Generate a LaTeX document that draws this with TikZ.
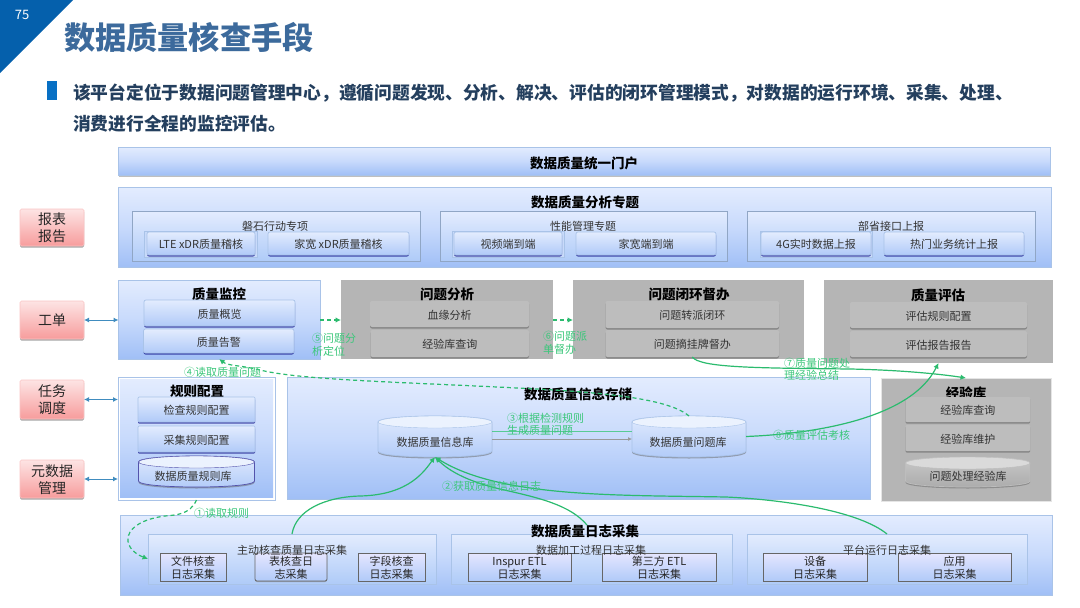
\documentclass[tikz,border=0pt]{standalone}
\usepackage{fontspec}
\setmainfont{Noto Sans CJK SC}
\usetikzlibrary{arrows.meta,shadows,calc}
\definecolor{gl}{HTML}{2BBB6E}
\definecolor{gt}{HTML}{3CC77B}
\definecolor{bb}{HTML}{A9C3E8}
\definecolor{hd}{HTML}{3C6A9C}
\definecolor{bluetop}{HTML}{E3ECFE}
\definecolor{bluemid}{HTML}{C8DAFC}
\definecolor{bluebot}{HTML}{A0BFF6}
\definecolor{bluesub}{HTML}{AFCBF8}
\definecolor{bluelow}{HTML}{B0CAF8}
\definecolor{panelgrey}{HTML}{B5B5B5}
\definecolor{boxgrey}{HTML}{BDBDBD}
\definecolor{tri}{HTML}{0560AC}
\definecolor{bul}{HTML}{0870C4}
\definecolor{redt}{HTML}{FDE4E4}
\definecolor{redm}{HTML}{F79C9C}
\tikzset{
 x=1pt,y=-1pt,
 base/.style={inner sep=0pt,outer sep=0pt,text=black!80,font=\fontsize{11}{13.5}\selectfont,align=center},
 panel/.style={base,draw=bb,line width=.8pt,top color=bluetop,bottom color=bluebot,middle color=bluemid},
 plainbox/.style={panel,general shadow={fill=black!25,shadow yshift=-1.5pt,shadow xshift=.5pt}},
 subbox/.style={base,draw=bb!85!black,line width=.8pt,top color=bluetop,bottom color=bluesub,general shadow={fill=blue!50!black,opacity=.35,shadow yshift=-1.2pt}},
 inbox/.style={base,rounded corners=2pt,draw=bb,line width=.7pt,top color=bluetop,bottom color=bluelow,general shadow={fill=blue!50!black,opacity=.65,shadow yshift=-1.5pt}},
 band/.style={base,draw=bb,line width=.5pt,fill=bluelow!70!white},
 logbox/.style={base,draw=black!60,line width=.8pt,top color=white!90!blue,bottom color=bluelow,font=\fontsize{11}{13}\selectfont,text=black!85,general shadow={fill=black!50,opacity=.6,shadow yshift=-1pt}},
 greyp/.style={base,fill=panelgrey},
 greyb/.style={base,rounded corners=2pt,fill=boxgrey,general shadow={fill=black!60,opacity=.6,shadow yshift=-1.5pt}},
 redb/.style={base,rounded corners=1.5pt,draw=redm!60,line width=.6pt,top color=redt,bottom color=redm,text=black!85,font=\fontsize{14}{17}\selectfont,general shadow={fill=black!35,shadow yshift=-1.5pt}},
 ptitle/.style={inner sep=0pt,text=black,font=\fontsize{13.5}{16}\selectfont\bfseries},
 stitle/.style={inner sep=0pt,text=black!80,font=\fontsize{11}{13}\selectfont},
 glab/.style={inner sep=0pt,text=gt,font=\fontsize{11}{12.5}\selectfont,align=left,anchor=west},
 link/.style={draw=gl,line width=1.2pt,-{Latex[length=5.5pt,width=5.5pt]}},
 dlink/.style={link,dash pattern=on 4pt off 3pt},
 both/.style={draw=blue!40!cyan!50!gray,line width=1pt,{Latex[length=5pt,width=5pt]}-{Latex[length=5pt,width=5pt]}},
}
\newcommand\dn[1]{\raisebox{-2.3pt}[\height][\depth]{\begin{tabular}{@{}c@{}}#1\end{tabular}}}
\newcommand\bx[7][base]{\node[#1,minimum width={(#4-#2)*1pt},minimum height={(#5-#3)*1pt}] (#6) at ({(#2+#4)/2},{(#3+#5)/2}) {\dn{#7}};}
\newcommand\cyl[8]{%
 \path[top color=#6,bottom color=#7,draw=#8,line width=.7pt,general shadow={fill=black!60,opacity=.5,shadow yshift=-1.5pt}]
  (#1,#2+6) -- (#1,#4-6) .. controls (#1,#4+2) and (#3,#4+2) .. (#3,#4-6) -- (#3,#2+6) .. controls (#3,#2-2) and (#1,#2-2) .. cycle;
 \path[fill=#6!70!white,draw=#8,line width=.4pt] ({(#1+#3)/2},#2+6) ellipse [x radius={(#3-#1)/2*1pt},y radius=6pt];
 \node[base,minimum width={(#3-#1)*1pt},minimum height={(#4-#2)*1pt}] (#5) at ({(#1+#3)/2},{(#2+#4)/2}) {};
}
\begin{document}
\begin{tikzpicture}
\useasboundingbox (0,0) rectangle (1080,608);
\fill[white] (0,0) rectangle (1080,608);
% header
\fill[tri] (0,0) -- (73,0) -- (0,73) -- cycle;
\node[inner sep=0pt,text=white,font=\fontsize{13}{15}\selectfont] (pg) at (22,15) {75};
\node[inner sep=0pt,anchor=west,text=hd,font=\fontsize{31.2}{36}\selectfont\bfseries] (ttl) at (64,37) {数据质量核查手段};
\fill[bul] (47,81) rectangle (57,100);
\node[inner sep=0pt,anchor=west,text=hd!60!black,font=\fontsize{17.73}{22}\selectfont\bfseries] (l1) at (73,93) {该平台定位于数据问题管理中心，遵循问题发现、分析、解决、评估的闭环管理模式，对数据的运行环境、采集、处理、};
\node[inner sep=0pt,anchor=west,text=hd!60!black,font=\fontsize{17.73}{22}\selectfont\bfseries] (l2) at (73,124) {消费进行全程的监控评估。};
% left red
\bx[redb]{20}{209}{84}{246}{rep}{报表\\报告}
\bx[redb]{20}{301}{84}{339}{gd}{工单}
\bx[redb]{20}{380}{84}{419}{rw}{任务\\调度}
\bx[redb]{20}{460}{84}{498}{ysj}{元数据\\管理}
% portal
\bx[plainbox]{118}{147}{1050}{175}{portal}{}
\node[ptitle] (portalt) at (584,163) {数据质量统一门户};
% analysis
\bx[panel]{118}{187}{1051}{267}{ana}{}
\node[ptitle] (anat) at (585,202) {数据质量分析专题};
\bx[subbox]{132}{211}{420}{261}{s1}{}
\bx[subbox]{440}{211}{727}{261}{s2}{}
\bx[subbox]{747}{211}{1035}{261}{s3}{}
\node[stitle] (s1t) at (275,226) {磐石行动专项};
\node[stitle] (s2t) at (583,226) {性能管理专题};
\node[stitle] (s3t) at (891,226) {部省接口上报};
\bx[band]{144}{231}{257}{257}{b1}{}
\bx[band]{452}{231}{564}{257}{b2}{}
\bx[band]{760}{231}{872}{257}{b3}{}
\bx[inbox]{147}{232}{255}{255}{a1}{LTE xDR质量稽核}
\bx[inbox]{268}{232}{409}{255}{a2}{家宽 xDR质量稽核}
\bx[inbox]{454}{232}{562}{255}{a3}{视频端到端}
\bx[inbox]{576}{232}{716}{255}{a4}{家宽端到端}
\bx[inbox]{761}{232}{871}{255}{a5}{4G实时数据上报}
\bx[inbox]{884}{232}{1024}{255}{a6}{热门业务统计上报}
% row 2
\bx[panel]{118.5}{280}{320}{359}{jk}{}
\node[ptitle] (jkt) at (219,294) {质量监控};
\bx[inbox]{144}{300}{295}{326}{jk1}{质量概览}
\bx[inbox]{143.5}{329}{294}{353}{jk2}{质量告警}
\bx[greyp]{341}{280}{553}{359}{fx}{}
\node[ptitle] (fxt) at (447,294.5) {问题分析};
\bx[greyb]{370}{301}{529}{327}{fx1}{血缘分析}
\bx[greyb]{370.5}{330}{529}{357}{fx2}{经验库查询}
\bx[greyp]{573}{280}{804}{359}{bh}{}
\node[ptitle] (bht) at (689,294.5) {问题闭环督办};
\bx[greyb]{605.5}{301}{779}{328}{bh1}{问题转派闭环}
\bx[greyb]{605.5}{330}{779}{357}{bh2}{问题摘挂牌督办}
\bx[greyp]{824}{280}{1053}{363}{pg2}{}
\node[ptitle] (pg2t) at (938,295.5) {质量评估};
\bx[greyb]{850}{302}{1027}{328}{pg3}{评估规则配置}
\bx[greyb]{850}{331}{1027}{357}{pg4}{评估报告报告}
% rule config
\bx[base,draw=bb,line width=.8pt,fill=white]{118}{377}{275}{500}{gzo}{}
\bx[panel,draw=none]{120}{379}{273}{497}{gz}{}
\node[ptitle] (gzt) at (197,391.5) {规则配置};
\bx[inbox,rounded corners=1pt]{138}{397}{255}{422}{gz1}{检查规则配置}
\bx[inbox,rounded corners=1pt]{138}{426}{255}{452}{gz2}{采集规则配置}
\cyl{138.5}{456}{254.5}{487}{gz3}{bluetop}{bluelow}{blue!35!gray}
\node[base] (gz3t) at (193,476) {数据质量规则库};
% storage
\bx[panel]{287}{377}{870}{499}{cc}{}
\node[ptitle] (cct) at (578,394) {数据质量信息存储};
\cyl{378}{416}{492}{457}{cinfo}{bluetop}{bluelow}{bb}
\node[base] (cinfot) at (435,442) {数据质量信息库};
\cyl{632}{416}{746}{457}{cprob}{bluetop}{bluelow}{bb}
\node[base] (cprobt) at (688,442) {数据质量问题库};
% exp
\bx[greyp,draw=white!80!gray]{881}{378}{1051}{501}{jy}{}
\node[ptitle] (jyt) at (966,393.5) {经验库};
\bx[greyb,rounded corners=1pt]{905.5}{397}{1030}{422}{jy1}{经验库查询}
\bx[greyb,rounded corners=1pt]{905.5}{425}{1030}{451}{jy2}{经验库维护}
\cyl{905.5}{457}{1030}{487}{jy3}{boxgrey!80!white}{boxgrey!90!black}{boxgrey}
\node[base] (jy3t) at (968,476) {问题处理经验库};
% log collection
\bx[panel]{120}{515}{1052}{595}{rz}{}
\bx[band,fill=none,top color=bluetop,bottom color=bluesub]{148}{534}{436}{584}{r1}{}
\bx[band,fill=none,top color=bluetop,bottom color=bluesub]{451}{534}{732}{584}{r2}{}
\bx[band,fill=none,top color=bluetop,bottom color=bluesub]{747}{534}{1027}{584}{r3}{}
\bx[logbox]{160}{553}{226}{581}{l11}{文件核查\\日志采集}
\bx[logbox,rounded corners=2pt]{255}{553}{327}{581}{l12}{表核查日\\志采集}
\bx[logbox]{358}{553}{425}{581}{l13}{字段核查\\日志采集}
\bx[logbox]{468}{553}{571}{581}{l21}{Inspur ETL\\日志采集}
\bx[logbox]{602}{553}{716}{581}{l22}{第三方 ETL\\日志采集}
\bx[logbox]{763}{553}{867}{581}{l31}{设备\\日志采集}
\bx[logbox]{898}{553}{1011}{581}{l32}{应用\\日志采集}
\node[stitle] (r1t) at (292,550) {主动核查质量日志采集};
\node[stitle] (r2t) at (591,550) {数据加工过程日志采集};
\node[stitle] (r3t) at (887,550) {平台运行日志采集};
\node[ptitle] (rzt) at (585,531) {数据质量日志采集};
% connectors
\draw[both] (gd.east) -- (gd.east -| jk.west);
\draw[both] (rw.east) -- (rw.east -| gzo.west);
\draw[both] (ysj.east) -- (ysj.east -| gzo.west);
\draw[dlink] (jk.east |- gd.east) -- (fx.west |- gd.east);
\draw[dlink] (fx.east |- gd.east) -- (bh.west |- gd.east);
\draw[draw=gt,line width=.7pt,opacity=.8] (cinfo.east |- 0,431.5) -- (cprob.west |- 0,431.5);
\draw[draw=black!40,line width=.8pt,-{Latex[length=4pt,width=4pt]}] (cinfo.east |- 0,439) -- (cprob.west |- 0,439);
\draw[dlink] (gzo.south) .. controls (190,515) and (175,515) .. (165,516) .. controls (120,522) and (120,548) .. (r1.west |- 0,559);
\draw[dlink] (cprob.north) .. controls (668,398) and (600,392) .. (517,388) .. controls (400,382) and (300,380) .. (260,370) .. controls (240,365) and (228,366) .. (jk.south);
\draw[link] (bh2.south) .. controls (700,368) and (760,368) .. (850,369) .. controls (900,370) and (940,374) .. (jy.north);
\draw[link] (cprob.east) .. controls (810,434) and (910,420) .. (pg2.south);
\coordinate (r2e) at (587,525);
\draw[link] (r1.north) .. controls (296,510) and (325,497) .. (360,496) .. controls (410,495) and (425,470) .. (cinfo.south);
\draw[link] (r2e) .. controls (570,505) and (540,498) .. (500,489) .. controls (470,482) and (450,472) .. (cinfo.south);
\draw[link] (r3.north) .. controls (860,512) and (790,500) .. (726,497) .. controls (620,495) and (500,498) .. (cinfo.south);
% labels
\node[glab] (n1) at (194,513) {①读取规则};
\node[glab] (n2) at (442,486) {②获取质量信息日志};
\node[glab] (n3) at (507,424.5) {③根据检测规则\\生成质量问题};
\node[glab] (n4) at (184,372) {④读取质量问题};
\node[glab] (n5) at (312,345) {⑤问题分\\析定位};
\node[glab] (n6) at (543,343) {⑥问题派\\单督办};
\node[glab] (n7) at (784,369.5) {⑦质量问题处\\理经验总结};
\node[glab] (n8) at (773,435) {⑧质量评估考核};
\end{tikzpicture}
\end{document}
